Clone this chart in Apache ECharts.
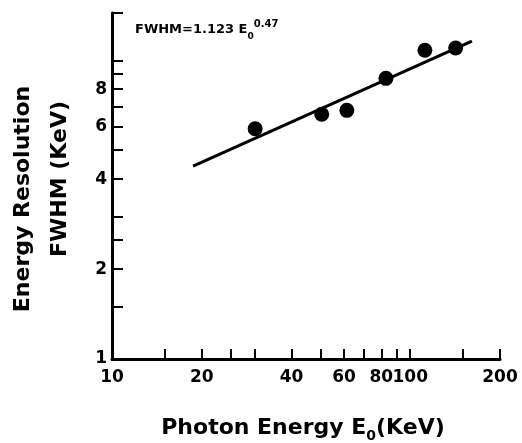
<!DOCTYPE html>
<html><head><meta charset="utf-8">
<script src="https://cdn.jsdelivr.net/npm/echarts@6/dist/echarts.min.js"></script>
<style>html,body{margin:0;padding:0;background:#fff}#c{width:522px;height:443px}</style>
</head><body><div id="c"></div>
<script>
// Data
const measured = [[30.2, 5.9], [50.5, 6.6], [61.3, 6.8], [82.9, 8.7], [112, 10.8], [142, 11.0]];
const fitLine = [[18.7, 4.42], [161, 11.6]];
const xTicks = [15, 20, 25, 30, 40, 50, 60, 70, 80, 90, 100, 150, 200];
const xLabels = [10, 20, 40, 60, 80, 100, 200];
const yTicks = [1.5, 2, 2.5, 3, 4, 5, 6, 7, 8, 9, 10, 14.4];
const yLabels = [1, 2, 4, 6, 8];
const FONT = 'DejaVu Sans';

const chart = echarts.init(document.getElementById('c'), null, {renderer: 'canvas'});
chart.setOption({
  animation: false,
  backgroundColor: '#fff',
  grid: {left: 112, right: 22, top: 13, bottom: 84, containLabel: false, outerBoundsMode: 'none'},
  title: {
    left: 130, top: 14,
    text: '{a|FWHM=1.123 E}{b|0}{c|0.47}',
    textStyle: {
      rich: {
        a: {fontFamily: FONT, fontWeight: 'bold', fontSize: 13, color: '#000', lineHeight: 22, verticalAlign: 'middle'},
        b: {fontFamily: FONT, fontWeight: 'bold', fontSize: 9, color: '#000', lineHeight: 13, verticalAlign: 'bottom'},
        c: {fontFamily: FONT, fontWeight: 'bold', fontSize: 10, color: '#000', lineHeight: 9, verticalAlign: 'top'}
      }
    }
  },
  xAxis: {
    type: 'log', logBase: 10, min: 10, max: 200,
    splitLine: {show: false},
    axisLine: {lineStyle: {color: '#000', width: 3}},
    axisTick: {inside: true, length: 10, lineStyle: {color: '#000', width: 2}, customValues: xTicks},
    axisLabel: {customValues: xLabels, color: '#000', fontFamily: FONT, fontWeight: 'bold', fontSize: 17, margin: 10, formatter: v => String(v)}
  },
  yAxis: {
    type: 'log', logBase: 10, min: 1, max: 14.4,
    splitLine: {show: false},
    axisLine: {lineStyle: {color: '#000', width: 3}},
    axisTick: {inside: true, length: 11, lineStyle: {color: '#000', width: 2}, customValues: yTicks},
    axisLabel: {customValues: yLabels, color: '#000', fontFamily: FONT, fontWeight: 'bold', fontSize: 17, margin: 5, formatter: v => String(v)}
  },
  graphic: [
    {type: 'text', x: 23, y: 199, rotation: Math.PI / 2,
     style: {text: 'Energy Resolution', fontFamily: FONT, fontWeight: 'bold', fontSize: 22, fill: '#000', align: 'center', verticalAlign: 'middle'}},
    {type: 'text', x: 60, y: 179, rotation: Math.PI / 2,
     style: {text: 'FWHM (KeV)', fontFamily: FONT, fontWeight: 'bold', fontSize: 22, fill: '#000', align: 'center', verticalAlign: 'middle'}},
    {type: 'text', x: 303, y: 428,
     style: {text: '{a|Photon Energy E}{b|0}{a|(KeV)}', fill: '#000', align: 'center', verticalAlign: 'middle',
       rich: {
         a: {fontFamily: FONT, fontWeight: 'bold', fontSize: 22, fill: '#000', lineHeight: 30, verticalAlign: 'middle'},
         b: {fontFamily: FONT, fontWeight: 'bold', fontSize: 14, fill: '#000', lineHeight: 16, verticalAlign: 'bottom'}
       }}}
  ],
  series: [
    {type: 'line', data: fitLine, symbol: 'none', lineStyle: {color: '#000', width: 3}, z: 2},
    {type: 'scatter', data: measured, symbol: 'circle', symbolSize: 15, itemStyle: {color: '#000', opacity: 1}, z: 3}
  ]
});
</script></body></html>
